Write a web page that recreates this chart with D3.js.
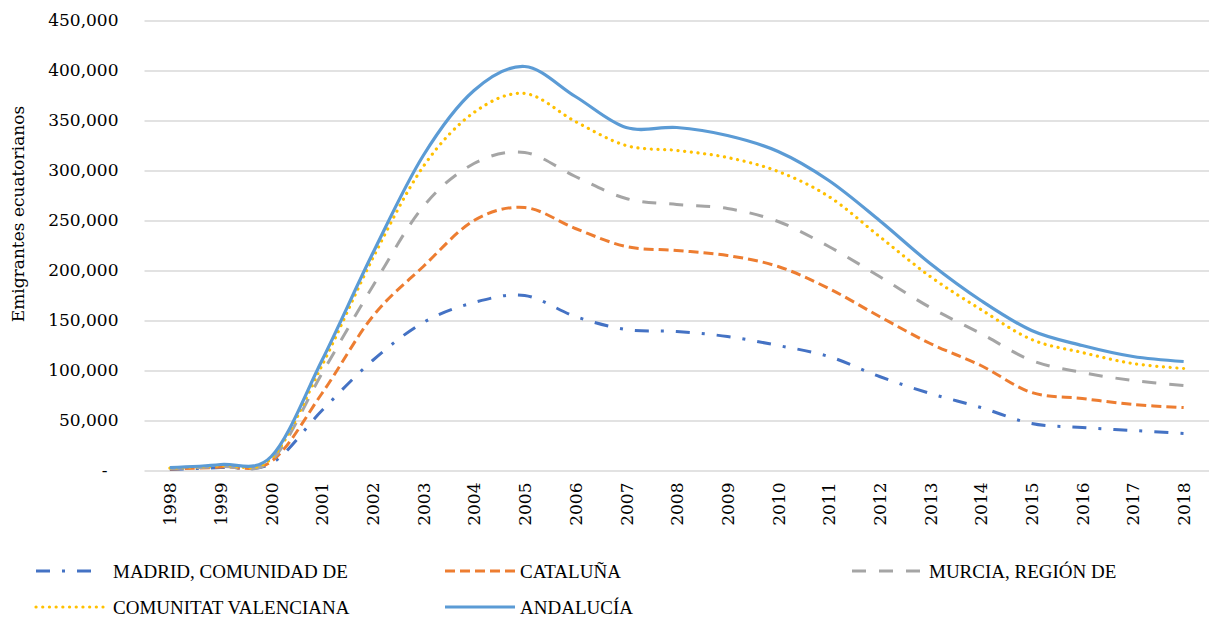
<!DOCTYPE html>
<html>
<head>
<meta charset="utf-8">
<script src="https://cdn.jsdelivr.net/npm/d3@7"></script>
<style>
  body { margin: 0; background: #fff; }
  text { font-family: "DejaVu Serif", serif; fill: #000; }
  .legend text { font-family: "Liberation Serif", serif; }
</style>
</head>
<body>
<div id="chart"></div>
<script>
// data
var years = ["1998", "1999", "2000", "2001", "2002", "2003", "2004", "2005", "2006", "2007",
    "2008", "2009", "2010", "2011", "2012", "2013", "2014", "2015", "2016", "2017", "2018"];

var madrid = [1000, 3000, 7000, 60000, 110000, 148000, 168000, 175000, 154000, 141000,
    139000, 134000, 125000, 114000, 94000, 77000, 63000, 47000, 43000, 40000, 37000];
var cataluna = [1500, 3500, 9000, 77000, 154000, 204000, 250000, 263000, 242000, 224000,
    220000, 215000, 204000, 182000, 154000, 127000, 105000, 78000, 72000, 66000, 63000];
var murcia = [2000, 4000, 10000, 97000, 184000, 264000, 307000, 318000, 294000, 272000,
    266000, 262000, 249000, 224000, 194000, 163000, 137000, 110000, 98000, 90000, 85000];
var valenciana = [2500, 5000, 12000, 105000, 212000, 304000, 358000, 377000, 349000, 325000,
    320000, 313000, 299000, 274000, 234000, 194000, 161000, 131000, 118000, 107000, 102000];
var andalucia = [3000, 6000, 14000, 110000, 217000, 315000, 380000, 404000, 374000, 343000,
    343000, 335000, 319000, 290000, 250000, 207000, 170000, 140000, 125000, 114000, 109000];

var seriesNames = ["MADRID, COMUNIDAD DE", "CATALUÑA", "MURCIA, REGIÓN DE",
    "COMUNITAT VALENCIANA", "ANDALUCÍA"];
var yTicks = [0, 50000, 100000, 150000, 200000, 250000, 300000, 350000, 400000, 450000];

var series = [
    { name: seriesNames[0], values: madrid, color: "#4472C4", dash: "14,12,3,12", width: 3, cap: "butt" },
    { name: seriesNames[1], values: cataluna, color: "#ED7D31", dash: "10,5", width: 3, cap: "butt" },
    { name: seriesNames[2], values: murcia, color: "#A5A5A5", dash: "14,13", width: 3, cap: "butt" },
    { name: seriesNames[3], values: valenciana, color: "#FFC000", dash: "0.1,6.6", width: 3.2, cap: "round" },
    { name: seriesNames[4], values: andalucia, color: "#5B9BD5", dash: null, width: 3.2, cap: "butt" }
];

var svgWidth = 1209;
var svgHeight = 618;

var margin = { top: 20.5, right: 0, bottom: 147.5, left: 144.5 };
var width = svgWidth - margin.left - margin.right;
var height = svgHeight - margin.top - margin.bottom;

var svg = d3.select("#chart")
    .append("svg")
    .attr("width", svgWidth)
    .attr("height", svgHeight);

var chartGroup = svg.append("g")
    .attr("transform", `translate(${margin.left}, ${margin.top})`);

// scales
var xScale = d3.scalePoint()
    .domain(years)
    .range([0, width])
    .padding(0.5);

var yScale = d3.scaleLinear()
    .domain([0, 450000])
    .range([height, 0]);

// gridlines + y labels
var leftAxis = d3.axisLeft(yScale)
    .tickValues(yTicks)
    .tickSize(-width)
    .tickPadding(26)
    .tickFormat(d => d === 0 ? "-" : d3.format(",")(d));

var yAxisG = chartGroup.append("g").call(leftAxis);
yAxisG.select(".domain").remove();
yAxisG.selectAll(".tick line").attr("stroke", "#d9d9d9").attr("stroke-width", 1.3);
yAxisG.selectAll(".tick text").attr("font-size", 17).attr("font-family", "DejaVu Serif");
yAxisG.selectAll(".tick text").filter(d => d === 0).attr("dx", -11);

// x labels
var bottomAxis = d3.axisBottom(xScale).tickSize(0).tickPadding(12);
var xAxisG = chartGroup.append("g")
    .attr("transform", `translate(0, ${height})`)
    .call(bottomAxis);
xAxisG.select(".domain").remove();
xAxisG.selectAll(".tick text")
    .attr("font-size", 17)
    .attr("font-family", "DejaVu Serif")
    .attr("transform", "rotate(-90)")
    .attr("text-anchor", "end")
    .attr("x", -12)
    .attr("y", 0)
    .attr("dy", "0.35em");

// axis title
chartGroup.append("text")
    .attr("transform", "rotate(-90)")
    .attr("x", 0 - 214 + margin.top)
    .attr("y", 0 - margin.left + 24)
    .attr("text-anchor", "middle")
    .attr("font-size", 17)
    .text("Emigrantes ecuatorianos");

// lines
var line = d3.line()
    .x((d, i) => xScale(years[i]))
    .y(d => yScale(d))
    .curve(d3.curveCardinal.tension(0));

series.forEach(function (s) {
    chartGroup.append("path")
        .datum(s.values)
        .attr("d", line)
        .attr("fill", "none")
        .attr("stroke", s.color)
        .attr("stroke-width", s.width)
        .attr("stroke-linecap", s.cap)
        .attr("stroke-dasharray", s.dash);
});

// legend
var legendPos = [
    { x1: 36, x2: 96, tx: 113, y: 571 },
    { x1: 445, x2: 515, tx: 520, y: 571 },
    { x1: 852, x2: 922, tx: 929, y: 571 },
    { x1: 36, x2: 103, tx: 113, y: 607 },
    { x1: 445, x2: 515, tx: 520, y: 607 }
];

var legend = svg.append("g").attr("class", "legend");
series.forEach(function (s, i) {
    var p = legendPos[i];
    legend.append("line")
        .attr("x1", p.x1).attr("x2", p.x2)
        .attr("y1", p.y).attr("y2", p.y)
        .attr("stroke", s.color)
        .attr("stroke-width", s.width)
        .attr("stroke-linecap", s.cap)
        .attr("stroke-dasharray", s.dash);
    legend.append("text")
        .attr("x", p.tx)
        .attr("y", p.y)
        .attr("dy", "0.35em")
        .attr("font-size", 19)
        .text(s.name);
});
</script>
</body>
</html>
